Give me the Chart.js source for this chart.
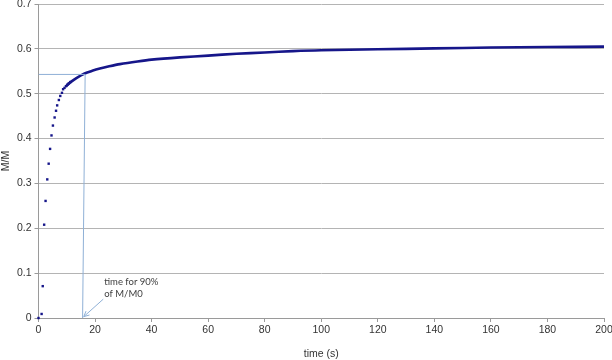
<!DOCTYPE html>
<html>
<head>
<meta charset="utf-8">
<script src="https://cdn.jsdelivr.net/npm/chart.js@4/dist/chart.umd.min.js"></script>
<style>
  html, body { margin: 0; padding: 0; background: #fff; }
  #wrap { width: 612px; height: 360px; }
</style>
</head>
<body>
<div id="wrap"><canvas id="myChart" width="612" height="360"></canvas></div>
<script>
// early separate measurement points (time s, M/M0)
var earlyTime = [0, 1.1, 1.5, 2.0, 2.5, 3.1, 3.6, 4.1, 4.6, 5.1, 5.7, 6.2, 6.6, 7.2, 7.7, 8.3, 8.7, 9.2, 9.7, 10.2, 10.7, 11.2];
var earlyVal  = [0, 0.009, 0.071, 0.208, 0.261, 0.309, 0.344, 0.377, 0.407, 0.429, 0.447, 0.462, 0.474, 0.486, 0.495, 0.502, 0.510, 0.513, 0.517, 0.520, 0.523, 0.526];
// later dense part, points merge into a thick line
var lateTime = [9.7, 10.5, 11.6, 13.4, 16.3, 19, 21.7, 25, 28.8, 35, 40, 50, 60, 70, 80, 90, 100, 120, 140, 160, 180, 200];
var lateVal  = [0.516, 0.521, 0.527, 0.535, 0.545, 0.551, 0.556, 0.561, 0.566, 0.572, 0.576, 0.581, 0.585, 0.589, 0.592, 0.595, 0.597, 0.599, 0.601, 0.603, 0.604, 0.605];
// 90% guide line and arrow
var guideTime = [0, 16.5, 15.6];
var guideVal  = [0.543, 0.543, 0];
var arrowTime = [22.9, 16.0];
var arrowVal  = [0.042, 0.003];
var noteLines = ['time for 90%', 'of M/M0'];
var xTicks = [0, 20, 40, 60, 80, 100, 120, 140, 160, 180, 200];

var navy = '#16168a';
var guideColor = '#8fb0d6';
var axisFont = { family: 'Liberation Sans, Arial, sans-serif', size: 10.5 };

function pts(xs, ys) {
    var out = [];
    for (var i = 0; i < xs.length; i++) out.push({ x: xs[i], y: ys[i] });
    return out;
}

var notePlugin = {
    id: 'note',
    afterDatasetsDraw: function(chart) {
        var c = chart.ctx, xs = chart.scales.x, ys = chart.scales.y;
        var x0 = xs.getPixelForValue(arrowTime[0]), y0 = ys.getPixelForValue(arrowVal[0]);
        var x1 = xs.getPixelForValue(arrowTime[1]), y1 = ys.getPixelForValue(arrowVal[1]);
        c.save();
        c.strokeStyle = guideColor;
        c.lineWidth = 1;
        c.beginPath();
        c.moveTo(x0, y0); c.lineTo(x1, y1);
        var a = Math.atan2(y1 - y0, x1 - x0), L = 6;
        c.moveTo(x1 - L * Math.cos(a - 0.45), y1 - L * Math.sin(a - 0.45));
        c.lineTo(x1, y1);
        c.lineTo(x1 - L * Math.cos(a + 0.45), y1 - L * Math.sin(a + 0.45));
        c.stroke();
        // text to the upper right of arrow start
        c.fillStyle = '#404040';
        c.font = '9.5px Lato, "Open Sans", sans-serif';
        c.textBaseline = 'middle';
        c.fillText(noteLines[0], x0 + 1, y0 - 17);
        c.fillText(noteLines[1], x0 + 1, y0 - 5);
        c.restore();
    }
};

var ctx = document.getElementById('myChart').getContext('2d');
var chart = new Chart(ctx, {
    type: 'scatter',
    data: {
        datasets: [{
            data: pts(guideTime, guideVal),
            showLine: true,
            borderColor: guideColor,
            borderWidth: 1,
            pointRadius: 0
        }, {
            data: pts(lateTime, lateVal),
            showLine: true,
            borderColor: navy,
            borderWidth: 2.6,
            pointRadius: 0,
            tension: 0.3
        }, {
            data: pts(earlyTime, earlyVal),
            backgroundColor: navy,
            borderColor: navy,
            pointStyle: 'rect',
            pointRadius: 1.7,
            borderWidth: 0,
            clip: false
        }]
    },
    options: {
        responsive: false,
        animation: false,
        plugins: { legend: { display: false }, tooltip: { enabled: false } },
        layout: { padding: { top: 3, right: 8, left: 0, bottom: 0 } },
        scales: {
            x: {
                type: 'linear', min: 0, max: 200,
                afterBuildTicks: function(s) { s.ticks = xTicks.map(function(v) { return { value: v }; }); },
                afterFit: function(s) { s.height = 42; s.paddingLeft = 0; s.paddingRight = 0; },
                ticks: { font: axisFont, color: '#333', padding: 2, maxRotation: 0 },
                grid: { drawOnChartArea: false, tickLength: 4, tickColor: '#9a9a9a' },
                border: { color: '#9a9a9a' },
                title: { display: true, text: 'time (s)', font: axisFont, color: '#333', padding: { top: 2, bottom: 0 } }
            },
            y: {
                min: 0, max: 0.7,
                ticks: { stepSize: 0.1, font: axisFont, color: '#333', padding: 3 },
                afterFit: function(s) { s.width = 38.5; s.paddingTop = 0; s.paddingBottom = 0; },
                grid: { color: '#b4b4b4', tickLength: 4, tickColor: '#9a9a9a' },
                border: { color: '#9a9a9a' },
                title: { display: true, text: 'M/M', font: axisFont, color: '#333', padding: { top: 0, bottom: 0 } }
            }
        }
    },
    plugins: [notePlugin]
});
</script>
</body>
</html>
